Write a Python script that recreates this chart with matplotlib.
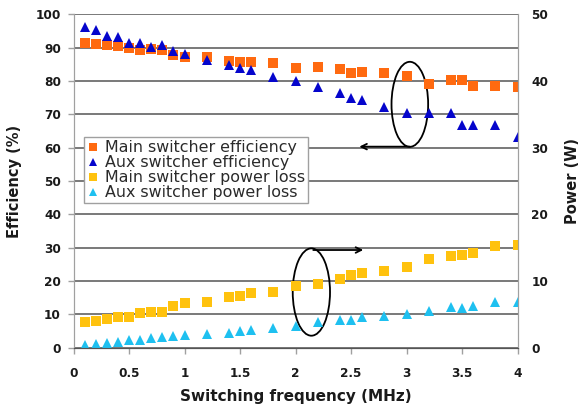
import matplotlib
matplotlib.use("Agg")
import matplotlib.pyplot as plt
from matplotlib.patches import Ellipse

plt.rcParams['font.family'] = ['DejaVu Sans']

# Switching frequency points (MHz)
freq = [0.1, 0.2, 0.3, 0.4, 0.5, 0.6, 0.7, 0.8, 0.9, 1.0, 1.2, 1.4, 1.5, 1.6,
        1.8, 2.0, 2.2, 2.4, 2.5, 2.6, 2.8, 3.0, 3.2, 3.4, 3.5, 3.6, 3.8, 4.0]

# Efficiency (%)
main_eff = [91.3, 91.0, 90.8, 90.5, 90.0, 89.3, 89.5, 89.3, 87.8, 87.1, 87.1, 86.0, 85.8, 85.8,
            85.5, 84.0, 84.3, 83.6, 82.5, 82.7, 82.3, 81.5, 79.1, 80.3, 80.3, 78.5, 78.5, 78.3]
aux_eff = [96.3, 95.3, 93.5, 93.1, 91.3, 91.3, 90.1, 90.8, 89.0, 88.0, 86.3, 84.8, 83.8, 83.3,
           81.3, 80.0, 78.3, 76.5, 75.0, 74.3, 72.3, 70.3, 70.5, 70.5, 66.8, 66.8, 66.8, 63.3]

# Power loss (W)
main_loss = [3.9, 4.0, 4.25, 4.55, 4.65, 5.15, 5.4, 5.4, 6.25, 6.75, 6.8, 7.55, 7.75, 8.15,
             8.4, 9.25, 9.55, 10.25, 10.9, 11.25, 11.55, 12.05, 13.3, 13.75, 13.9, 14.15, 15.25, 15.4]
aux_loss = [0.4, 0.55, 0.75, 0.9, 1.15, 1.15, 1.4, 1.55, 1.75, 1.9, 2.05, 2.25, 2.5, 2.65,
            3.0, 3.3, 3.9, 4.15, 4.15, 4.65, 4.8, 5.05, 5.55, 6.15, 6.0, 6.25, 6.9, 6.8]

labels = ["Main switcher efficiency", "Aux switcher efficiency",
          "Main switcher power loss", "Aux switcher power loss"]

eff_ticks = list(range(0, 101, 10))
pow_ticks = [0, 10, 20, 30, 40, 50]
freq_ticks = [0, 0.5, 1, 1.5, 2, 2.5, 3, 3.5, 4]
freq_ticklabels = ["0", "0.5", "1", "1.5", "2", "2.5", "3", "3.5", "4"]

W, H = 579, 405
fig = plt.figure(figsize=(W / 100, H / 100), dpi=100)
x0, x1 = 73.5, 517.5
y0, y1 = 14.3, 347.7
ax = fig.add_axes([x0 / W, 1 - y1 / H, (x1 - x0) / W, (y1 - y0) / H])
ax2 = ax.twinx()

grid_c = '#555555'
spine_c = '#a0a0a0'
txt_c = '#1a1a1a'

ax.set_xlim(0, 4)
ax.set_ylim(0, 100)
ax2.set_ylim(0, 50)
ax.set_yticks(eff_ticks)
ax2.set_yticks(pow_ticks)
ax.set_xticks(freq_ticks)
ax.set_xticklabels(freq_ticklabels)

ax.yaxis.grid(True, color=grid_c, lw=1.1)
ax.set_axisbelow(True)

for a in (ax, ax2):
    a.spines['top'].set_visible(False)
    a.spines['left'].set_color(spine_c)
    a.spines['right'].set_color(spine_c)
    a.spines['bottom'].set_color(grid_c)
    a.patch.set_visible(False)

ax.tick_params(axis='y', direction='out', length=4, width=1, color=spine_c, pad=5)
ax.tick_params(axis='x', direction='out', length=4, width=1, color=spine_c, pad=10)
ax2.tick_params(axis='y', length=0, pad=10)
for lab in ax.get_yticklabels() + ax.get_xticklabels() + ax2.get_yticklabels():
    lab.set_fontsize(8.7)
    lab.set_fontweight('bold')
    lab.set_color(txt_c)

h1, = ax.plot(freq, main_eff, ls='none', marker='s', ms=7.2, mew=0, color='#FF6A10')
h2, = ax.plot(freq, aux_eff, ls='none', marker='^', ms=7.6, mew=0, color='#0505CC')
h3, = ax2.plot(freq, main_loss, ls='none', marker='s', ms=7.2, mew=0, color='#FFC20E')
h4, = ax2.plot(freq, aux_loss, ls='none', marker='^', ms=7.2, mew=0, color='#1EC0F0')

# Ellipses marking which axis each group of series belongs to
ax.add_patch(Ellipse((3.03, 73.0), 0.33, 25.5, fill=False, ec='black', lw=1.3))
ax.add_patch(Ellipse((2.143, 16.7), 0.336, 26.2, fill=False, ec='black', lw=1.3))
ax.annotate('', xy=(2.575, 60.3), xytext=(3.03, 60.3),
            arrowprops=dict(arrowstyle='->', lw=1.3, color='black',
                            shrinkA=0, shrinkB=0))
ax.annotate('', xy=(2.61, 29.3), xytext=(2.16, 29.3),
            arrowprops=dict(arrowstyle='->', lw=1.3, color='black',
                            shrinkA=0, shrinkB=0))

leg = ax2.legend([h1, h2, h3, h4], labels, loc='upper left',
                 bbox_to_anchor=((84 - x0) / (x1 - x0), 1 - (137 - y0) / (y1 - y0)),
                 frameon=True, fancybox=False, framealpha=1, edgecolor='#a0a0a0',
                 fontsize=11.4, labelspacing=0.0, handlelength=0.75, handletextpad=0.35,
                 borderpad=0.2, borderaxespad=0, markerscale=0.85)
leg.get_frame().set_linewidth(1.0)
for t in leg.get_texts():
    t.set_color('#2a2a2a')

ax.set_ylabel("Efficiency (%)", fontsize=10.5, fontweight='bold', color=txt_c)
ax2.set_ylabel("Power (W)", fontsize=10.5, fontweight='bold', color=txt_c)
ax.set_xlabel("Switching frequency (MHz)", fontsize=11, fontweight='bold', color=txt_c)
ax.yaxis.set_label_coords(-(x0 - 22) / (x1 - x0), 0.5)
ax2.yaxis.set_label_coords(1 + (565 - x1) / (x1 - x0), 0.5)
ax.xaxis.set_label_coords(0.5, -(389 - y1) / (y1 - y0))

fig.savefig("out.png", dpi=100, facecolor='white')
